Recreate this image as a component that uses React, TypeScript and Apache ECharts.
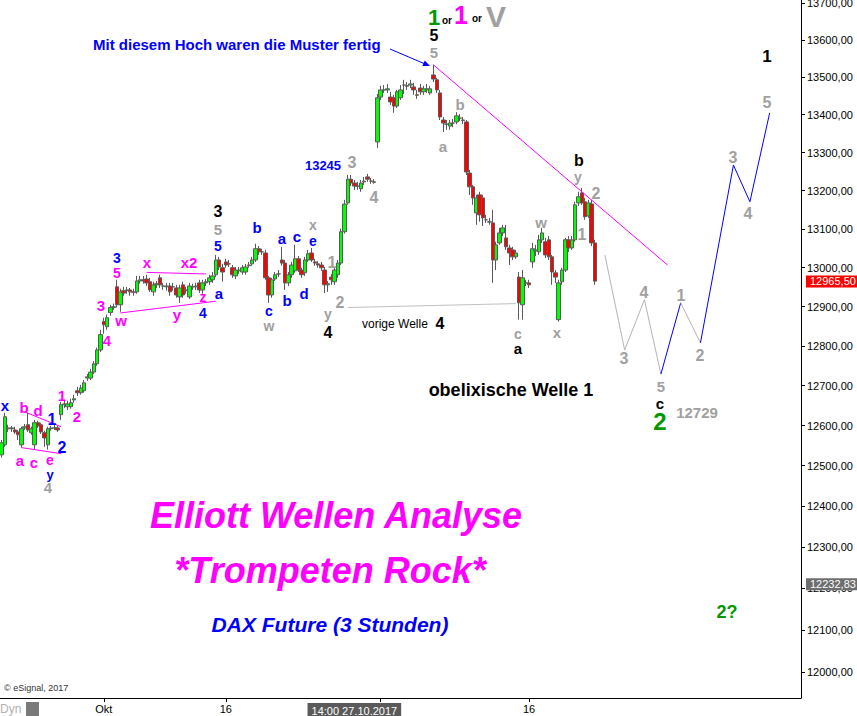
import React, { useEffect, useRef } from 'react';
import * as echarts from 'echarts';

// ---------- DATA ----------
// 3-hour candles: [open, close, low, high]
const candles: number[][] = [
  [12527,12557,12520,12564],[12552,12622,12547,12632],[12592,12594,12584,12602],[12594,12592,12584,12599],
  [12589,12584,12579,12597],[12584,12577,12564,12589],[12552,12592,12545,12597],[12594,12597,12589,12604],
  [12602,12589,12584,12632],[12582,12592,12577,12597],[12552,12607,12540,12614],[12607,12599,12594,12612],
  [12602,12584,12579,12607],[12582,12569,12547,12587],[12552,12592,12540,12597],[12592,12594,12587,12599],
  [12594,12594,12589,12602],[12594,12589,12584,12599],[12627,12652,12614,12659],[12652,12654,12644,12664],
  [12647,12654,12639,12662],[12647,12657,12642,12667],[12664,12667,12657,12677],[12687,12682,12674,12697],
  [12682,12694,12677,12702],[12687,12707,12682,12714],[12719,12722,12712,12729],[12719,12734,12714,12742],
  [12734,12755,12729,12762],[12755,12790,12750,12796],[12790,12829,12785,12841],[12862,12854,12831,12872],
  [12849,12872,12841,12880],[12885,12898,12877,12905],[12898,12900,12892,12908],[12951,12905,12898,12969],
  [12905,12938,12887,12946],[12941,12935,12928,12951],[12941,12943,12933,12951],[12943,12938,12928,12948],
  [12938,12937,12928,12946],[12938,12966,12933,12979],[12966,12969,12959,12979],[12969,12966,12959,12979],
  [12971,12961,12953,12982],[12964,12943,12938,12974],[12938,12956,12928,12964],[12956,12959,12948,12966],
  [12974,12956,12948,12982],[12953,12953,12943,12961],[12951,12953,12941,12961],[12953,12938,12928,12961],
  [12951,12951,12941,12961],[12948,12930,12923,12956],[12925,12948,12910,12956],[12956,12930,12923,12964],
  [12941,12943,12933,12951],[12925,12953,12920,12961],[12951,12951,12943,12959],[12951,12953,12943,12961],
  [12961,12943,12935,12969],[12943,12961,12933,12969],[12961,12964,12953,12971],[12964,12974,12956,12982],
  [12969,12979,12961,12989],[12982,13020,12976,13033],[13020,13002,12994,13028],[13000,12989,12964,13010],
  [13015,13007,13000,13023],[13010,13010,13002,13020],[13000,12982,12974,13007],[12979,12994,12971,13002],
  [12992,12994,12984,13002],[12989,13000,12982,13007],[12989,13002,12982,13010],[13005,13007,13000,13015],
  [13010,13020,13005,13028],[13020,13049,13015,13062],[13049,13041,13033,13056],[13041,13041,13033,13049],
  [13038,12974,12969,13046],[12974,12930,12910,12979],[12930,12969,12923,12974],[12971,12982,12966,12989],
  [12984,12984,12976,12994],[13020,13012,13005,13054],[13012,12961,12943,13020],[12961,12982,12953,12989],
  [12982,13007,12974,13015],[12992,13023,12987,13059],[13023,12994,12989,13030],[12994,12982,12974,13000],
  [12987,13020,12979,13028],[13020,13036,13015,13046],[13038,13020,13015,13051],[13015,13012,13005,13023],
  [13010,13007,13000,13017],[13007,13000,12992,13015],[12994,12956,12935,13002],[12956,12959,12938,12966],
  [12976,12969,12956,12984],[12964,12994,12956,13002],[12982,13012,12974,13020],[13012,13093,13007,13101],
  [13093,13165,13088,13176],[13168,13230,13163,13241],[13230,13220,13212,13241],[13220,13212,13202,13228],
  [13212,13212,13202,13223],[13205,13220,13197,13228],[13223,13225,13215,13236],[13236,13230,13223,13244],
  [13225,13225,13218,13233],[13223,13222,13218,13230],[13328,13445,13312,13455],[13447,13466,13439,13477],
  [13466,13466,13458,13479],[13466,13469,13458,13482],[13447,13434,13426,13461],[13445,13423,13405,13453],
  [13423,13461,13418,13466],[13445,13466,13439,13479],[13479,13479,13455,13493],[13477,13476,13466,13487],
  [13479,13482,13471,13493],[13474,13466,13453,13485],[13453,13452,13442,13466],[13471,13461,13453,13482],
  [13461,13469,13453,13477],[13466,13469,13458,13482],[13458,13469,13453,13477],[13506,13495,13487,13533],
  [13493,13466,13458,13498],[13458,13394,13386,13466],[13386,13378,13354,13394],[13375,13375,13360,13386],
  [13370,13378,13360,13386],[13378,13378,13367,13389],[13381,13397,13375,13407],[13391,13391,13383,13402],
  [13386,13385,13375,13394],[13381,13249,13241,13386],[13246,13210,13189,13254],[13210,13181,13163,13215],
  [13142,13181,13111,13189],[13189,13137,13119,13197],[13181,13129,13108,13189],[13124,13124,13116,13137],
  [13119,13118,13111,13129],[13116,13020,12961,13150],[13020,13059,12994,13067],[13064,13090,13059,13103],
  [13090,13103,13082,13111],[13077,13054,13046,13111],[13051,13038,13007,13059],[13046,13028,13020,13054],
  [13028,13038,13023,13046],[12976,12910,12867,12989],[12905,12974,12867,12994],[12961,12961,12953,12969],
  [12961,12956,12948,12969],[13015,13049,13000,13064],[13043,13046,13030,13059],[13041,13072,13033,13085],
  [13072,13090,13064,13103],[13067,13033,13025,13077],[13072,13028,13020,13082],[13028,12989,12956,13033],
  [12987,12976,12961,12994],[12867,12961,12862,12969],[12964,12994,12956,13000],[12994,13072,12989,13077],
  [13072,13051,13041,13082],[13051,13072,13046,13082],[13072,13163,13067,13171],[13168,13184,13160,13197],
  [13194,13168,13163,13207],[13171,13132,13124,13181],[13134,13168,13129,13176],[13165,13064,13056,13176],
  [13064,12965.5,12956,13072],
];

const SLOT_COUNT = 243;
const xTickLabels: Record<number, string> = { 31: 'Okt', 68: '16', 160: '16' };
const xTickSlots = [31, 68, 115, 160];
const cursorSlot = 107;
const cursorText = '14:00 27.10.2017';
const yTickPrices = [12000,12100,12200,12300,12400,12500,12600,12700,12800,12900,13000,13100,13200,13300,13400,13500,13600,13700];
const yMinPrice = 11938;
const yMaxPrice = 13708;
const lastPrice = 12965.5;
const refPrice = 12232.83;

// projection & helper lines: [slot, price]
const projGrayA = [[183,13033],[189,12790],[195,12918],[200,12729]];
const projBlueA = [[200,12729],[206,12910]];
const projGrayB = [[206,12910],[212,12808]];
const projBlueB = [[212,12808],[222,13267],[227,13171],[233,13405]];
const trendLine = [[131,13533],[202,13007]];
const prevWave4Line = [[105,12898],[156,12908]];
const triTop = [[7,12634],[18,12597]];
const triBottom = [[6,12545],[18,12530]];
const xx2Line = [[44,12988],[62,12984]];
const wyLine = [[36,12884],[65,12914]];

// ---------- ANNOTATIONS (pixel placed text) ----------
const COL = { blue: '#0000ff', mag: '#ff00ff', gray: '#a0a0a0', black: '#000000', green: '#009900' };
type Ann = [number, number, string, string, number];
const anns: Ann[] = [
  [434,17,'1',COL.green,22],[461,15,'1',COL.mag,25],[496,16,'V',COL.gray,30],
  [434,35,'5',COL.black,16],[434,52,'5',COL.gray,15],
  [460,104,'b',COL.gray,15],[443,146,'a',COL.gray,15],
  [352,162,'3',COL.gray,16],[374,197,'4',COL.gray,16],[323,165,'13245',COL.blue,13],
  [579,160,'b',COL.black,16],[578,177,'y',COL.gray,14],[596,193,'2',COL.gray,16],
  [541,222,'w',COL.gray,15],[582,234,'1',COL.gray,16],
  [518,334,'c',COL.gray,14],[518,348,'a',COL.black,15],[557,332,'x',COL.gray,15],
  [440,323,'4',COL.black,16],
  [218,211,'3',COL.black,16],[218,229,'5',COL.gray,15],[218,246,'5',COL.blue,14],
  [257,227,'b',COL.blue,15],[282,238,'a',COL.blue,15],[297,236,'c',COL.blue,15],
  [313,225,'x',COL.gray,14],[313,241,'e',COL.blue,14],[332,262,'1',COL.gray,16],
  [340,302,'2',COL.gray,16],[328,314,'y',COL.gray,14],[328,332,'4',COL.black,16],
  [304,293,'d',COL.blue,15],[287,300,'b',COL.blue,15],[269,311,'c',COL.blue,14],[269,326,'w',COL.gray,14],
  [219,293,'a',COL.blue,15],[203,313,'4',COL.blue,14],[203,297,'z',COL.mag,14],
  [177,314,'y',COL.mag,15],[189,262,'x2',COL.mag,15],[147,262,'x',COL.mag,15],
  [117,258,'3',COL.blue,14],[117,273,'5',COL.mag,14],[121,320,'w',COL.mag,15],
  [101,305,'3',COL.mag,15],[107,340,'4',COL.mag,15],
  [62,395,'1',COL.mag,15],[77,416,'2',COL.mag,15],[52,419,'1',COL.blue,16],[62,447,'2',COL.blue,16],
  [24,407,'b',COL.mag,15],[38,410,'d',COL.mag,15],[5,405,'x',COL.blue,15],
  [20,460,'a',COL.mag,15],[34,462,'c',COL.mag,15],[50,460,'e',COL.mag,14],
  [50,474,'y',COL.blue,13],[48,487,'4',COL.gray,15],
  [624,358,'3',COL.gray,16],[644,292,'4',COL.gray,16],[661,386,'5',COL.gray,15],
  [660,403,'c',COL.black,15],[660,421,'2',COL.green,24],[697,412,'12729',COL.gray,15],
  [681,295,'1',COL.gray,16],[700,355,'2',COL.gray,16],[733,157,'3',COL.gray,16],
  [748,213,'4',COL.gray,16],[767,56,'1',COL.black,17],[767,102,'5',COL.gray,16],
  [727,612,'2?',COL.green,18],
];

const FONT = '"Liberation Sans", Arial, sans-serif';

function txt(x: number, y: number, text: string, fill: string, size: number, opts: any = {}) {
  return {
    type: 'text', x, y, silent: true, z: 100,
    style: {
      text, fill,
      font: `${opts.style || ''} ${opts.weight || 'bold'} ${size}px ${FONT}`,
      textAlign: opts.align || 'center',
      textVerticalAlign: 'middle',
    },
  };
}

const L = (p: number) => Math.log(p);
const toLn = (arr: number[][]) => arr.map(([s, p]) => [s, L(p)]);

function lineSeries(data: number[][], color: string, width = 1) {
  return {
    type: 'line', data: toLn(data), symbol: 'none', silent: true,
    lineStyle: { color, width }, z: 5, clip: false,
  };
}

function priceTag(price: number, text: string, bg: string) {
  return {
    yAxis: L(price),
    lineStyle: { color: 'rgba(0,0,0,0)', width: 1 },
    label: {
      show: true, position: 'end', distance: 5, formatter: text,
      backgroundColor: bg, color: '#ffffff', fontSize: 11, fontFamily: FONT,
      padding: [1, 8, 0, 4],
    },
  };
}

export default function App() {
  const ref = useRef<HTMLDivElement>(null);
  useEffect(() => {
    if (!ref.current) return;
    const chart = echarts.init(ref.current, undefined, { renderer: 'svg' });
    const slots = Array.from({ length: SLOT_COUNT }, (_, i) => String(i));
    const graphic: any[] = anns.map(([x, y, t, c, s]) => txt(x, y, t, c, s));
    graphic.push(
      txt(93, 44, 'Mit diesem Hoch waren die Muster fertig', COL.blue, 15, { align: 'left' }),
      txt(447, 20, 'or', COL.black, 10),
      txt(477, 18, 'or', COL.black, 10),
      txt(362, 324, 'vorige Welle', COL.black, 12, { align: 'left', weight: 'normal' }),
      txt(511, 390, 'obelixische Welle 1', COL.black, 18),
      txt(336, 515, 'Elliott Wellen Analyse', COL.mag, 36, { style: 'italic' }),
      txt(330, 570, '*Trompeten Rock*', COL.mag, 36, { style: 'italic' }),
      txt(330, 624, 'DAX Future (3 Stunden)', COL.blue, 21, { style: 'italic' }),
      txt(4, 688, '© eSignal, 2017', '#333333', 9, { align: 'left', weight: 'normal' }),
      txt(0, 709, 'Dyn', '#b0b0b0', 12, { align: 'left', weight: 'normal' }),
      { type: 'rect', shape: { x: 26, y: 702, width: 13, height: 14 }, style: { fill: '#7a7a7a' }, silent: true },
      { type: 'line', shape: { x1: 390, y1: 49, x2: 424, y2: 63.5 }, style: { stroke: COL.blue, lineWidth: 1 }, silent: true, z: 100 },
      { type: 'polygon', shape: { points: [[430, 66], [422.4, 66.1], [424.8, 60.5]] }, style: { fill: COL.blue }, silent: true, z: 100 },
    );

    const option: any = {
      animation: false,
      backgroundColor: '#ffffff',
      grid: { left: 0, top: 0, width: 801, bottom: 18, containLabel: false, outerBoundsMode: 'none' },
      xAxis: {
        type: 'category', data: slots, boundaryGap: true,
        axisLine: { show: true, lineStyle: { color: '#000', width: 1 } },
        axisTick: {
          show: true, alignWithLabel: true, length: 4,
          interval: (i: number) => xTickSlots.includes(i),
          lineStyle: { color: '#000' },
        },
        axisLabel: {
          show: true, margin: 5, fontSize: 11, fontFamily: FONT, color: '#000',
          interval: (i: number) => xTickLabels[i] !== undefined || i === cursorSlot,
          formatter: (_v: string, i: number) => i === cursorSlot ? `{box|${cursorText}}` : (xTickLabels[i] || ''),
          rich: { box: { backgroundColor: '#5a5a5a', color: '#ffffff', fontSize: 11, fontFamily: FONT, padding: [2, 4, 1, 4] } },
        },
        splitLine: { show: false },
      },
      yAxis: {
        type: 'value', position: 'right', scale: true,
        min: L(yMinPrice), max: L(yMaxPrice),
        axisLine: { show: true, lineStyle: { color: '#000', width: 1 } },
        axisTick: { show: true, length: 4, lineStyle: { color: '#000' }, customValues: yTickPrices.map(L) },
        axisLabel: {
          show: true, margin: 6, fontSize: 11, fontFamily: FONT, color: '#000',
          customValues: yTickPrices.map(L),
          formatter: (v: number) => `${Math.round(Math.exp(v))},00`,
        },
        splitLine: { show: false },
      },
      series: [
        {
          type: 'candlestick',
          data: candles.map(([o, c, l, h]) => [L(o), L(c), L(l), L(h)]),
          barWidth: 4,
          itemStyle: { color: '#00ff00', color0: '#ff0000', borderColor: '#5a5a5a', borderColor0: '#5a5a5a', borderWidth: 1 },
          z: 3,
          markLine: {
            silent: true, symbol: 'none', animation: false,
            data: [priceTag(lastPrice, '12965,50', '#ff0000'), priceTag(refPrice, '12232,83', '#6e6e6e')],
          },
        },
        lineSeries(projGrayA, '#b4b4b4'),
        lineSeries(projBlueA, '#0000ff'),
        lineSeries(projGrayB, '#b4b4b4'),
        lineSeries(projBlueB, '#0000ff'),
        lineSeries(trendLine, '#ff00ff'),
        lineSeries(prevWave4Line, '#c0c0c0'),
        lineSeries(triTop, '#ff00ff'),
        lineSeries(triBottom, '#ff00ff'),
        lineSeries(xx2Line, '#ff00ff'),
        lineSeries(wyLine, '#ff00ff'),
      ],
      graphic,
    };
    chart.setOption(option);
    return () => chart.dispose();
  }, []);
  return <div ref={ref} style={{ position: 'fixed', left: 0, top: 0, width: 857, height: 716, background: '#fff' }} />;
}
